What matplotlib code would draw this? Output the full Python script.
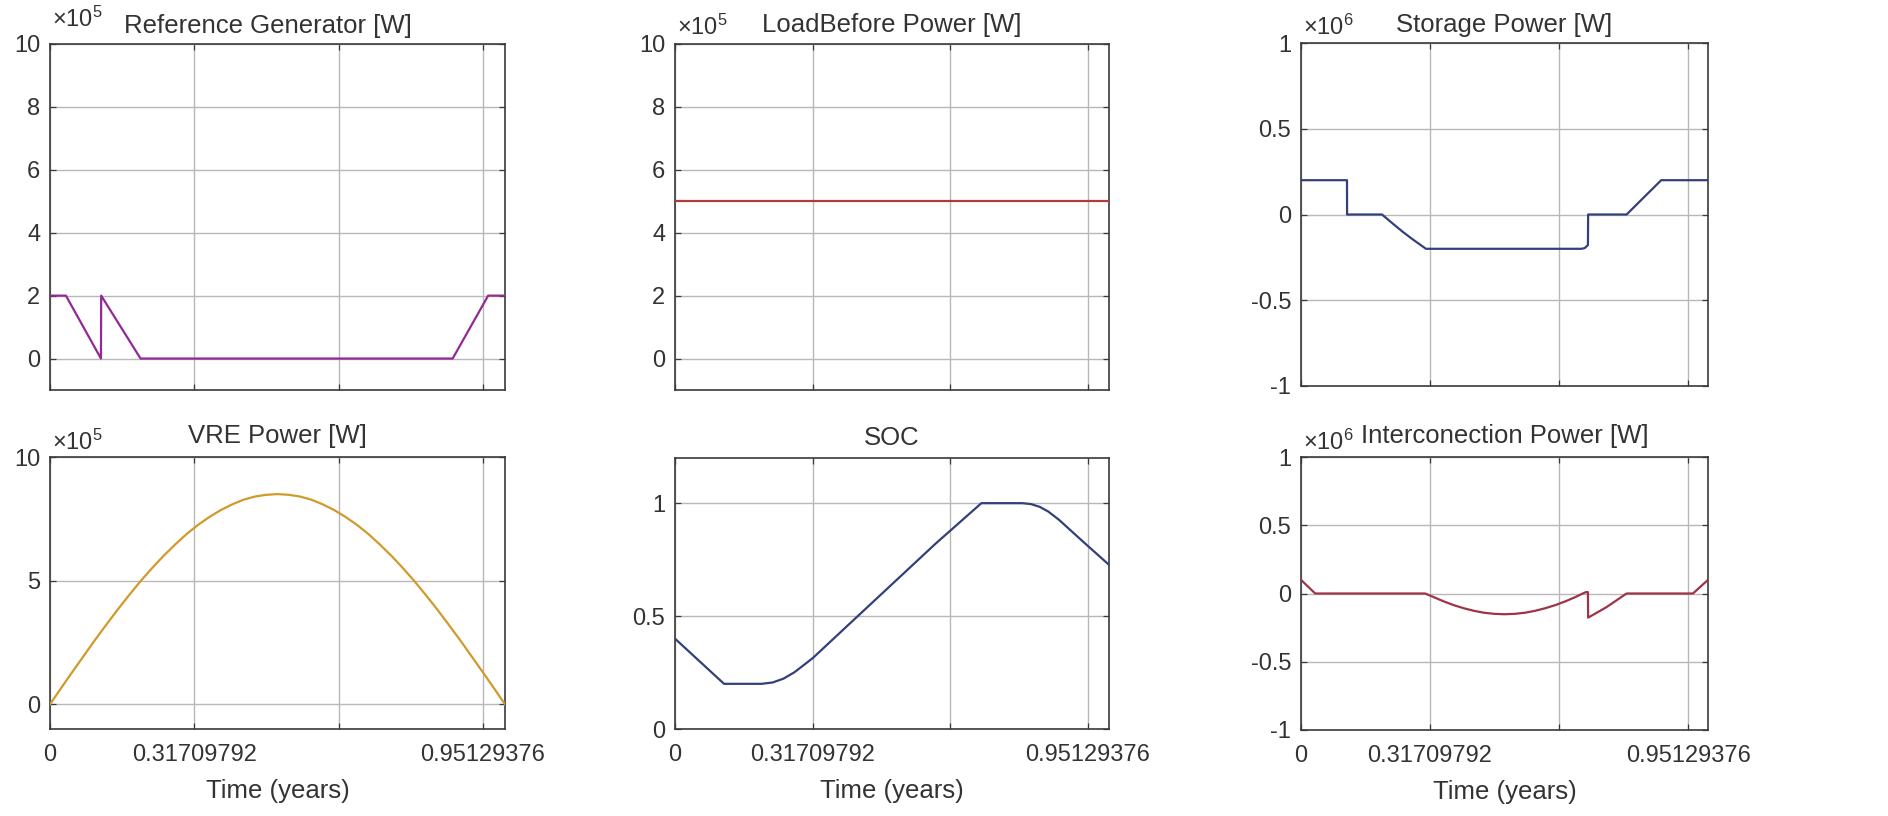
import matplotlib
matplotlib.use("Agg")
import matplotlib.pyplot as plt

plt.rcParams['font.family'] = ['Liberation Sans', 'DejaVu Sans']
plt.rcParams['mathtext.fontset'] = 'custom'
plt.rcParams['mathtext.rm'] = 'Liberation Sans'
plt.rcParams['mathtext.default'] = 'regular'

# ---------------- data (time in years) ----------------
ref_t = [0.0, 0.035, 0.112, 0.1125, 0.199, 0.885, 0.963, 1.0]
ref_p = [2.0e5, 2.0e5, 0.0, 2.0e5, 0.0, 0.0, 2.0e5, 2.0e5]

load_t = [0.0, 1.0]
load_p = [5.0e5, 5.0e5]

stor_t = [0.0, 0.113, 0.1132, 0.199, 0.225, 0.25, 0.275, 0.30, 0.307,
          0.689, 0.697, 0.705, 0.7055, 0.80, 0.885, 1.0]
stor_p = [0.2e6, 0.2e6, 0.0, 0.0, -0.052e6, -0.101e6, -0.146e6, -0.188e6, -0.2e6,
          -0.2e6, -0.196e6, -0.178e6, 0.0, 0.0, 0.2e6, 0.2e6]

vre_t = [0.0, 0.025, 0.05, 0.075, 0.1, 0.125, 0.15, 0.175, 0.2, 0.225, 0.25,
         0.275, 0.3, 0.325, 0.35, 0.375, 0.4, 0.425, 0.45, 0.475, 0.5,
         0.525, 0.55, 0.575, 0.6, 0.625, 0.65, 0.675, 0.7, 0.725, 0.75,
         0.775, 0.8, 0.825, 0.85, 0.875, 0.9, 0.925, 0.95, 0.975, 1.0]
vre_p = [0.0, 0.67e5, 1.33e5, 1.98e5, 2.63e5, 3.25e5, 3.86e5, 4.44e5, 5.0e5, 5.52e5, 6.01e5,
         6.46e5, 6.88e5, 7.25e5, 7.57e5, 7.85e5, 8.08e5, 8.27e5, 8.40e5, 8.47e5, 8.5e5,
         8.47e5, 8.40e5, 8.27e5, 8.08e5, 7.85e5, 7.57e5, 7.25e5, 6.88e5, 6.46e5, 6.01e5,
         5.52e5, 5.0e5, 4.44e5, 3.86e5, 3.25e5, 2.63e5, 1.98e5, 1.33e5, 0.67e5, 0.0]

soc_t = [0.0, 0.113, 0.199, 0.225, 0.25, 0.275, 0.30, 0.318, 0.40, 0.50, 0.60,
         0.706, 0.80, 0.82, 0.84, 0.86, 0.885, 0.94, 1.0]
soc_v = [0.40, 0.20, 0.20, 0.206, 0.223, 0.251, 0.288, 0.315, 0.462, 0.641, 0.82,
         1.0, 1.0, 0.996, 0.984, 0.963, 0.926, 0.83, 0.727]

ic_t = [0.0, 0.035, 0.305, 0.325, 0.35, 0.375, 0.40, 0.425, 0.45, 0.475, 0.50,
        0.525, 0.55, 0.575, 0.60, 0.625, 0.65, 0.675, 0.69, 0.700, 0.705, 0.7055,
        0.75, 0.80, 0.963, 1.0]
ic_p = [0.1e6, 0.0, 0.0, -0.025e6, -0.057e6, -0.085e6, -0.108e6, -0.127e6, -0.141e6, -0.149e6, -0.152e6,
        -0.149e6, -0.141e6, -0.127e6, -0.108e6, -0.085e6, -0.057e6, -0.025e6, -0.003e6, 0.01e6, 0.01e6, -0.177e6,
        -0.101e6, 0.0, 0.0, 0.1e6]

x_ticks = [0.0, 0.31709792, 0.63419584, 0.95129376]
x_ticklabels = ['0', '0.31709792', '', '0.95129376']

titles = ['Reference Generator [W]', 'LoadBefore Power [W]', 'Storage Power [W]',
          'VRE Power [W]', 'SOC', 'Interconection Power [W]']

# ---------------- figure ----------------
W, H = 1888, 816
fig = plt.figure(figsize=(W / 100, H / 100), dpi=100)

def px_axes(l, r, t, b):
    return fig.add_axes([l / W, (H - b) / H, (r - l) / W, (b - t) / H])

TXT = '#333333'
GRID = '#b8b8b8'
SPINE = '#3a3a3a'

specs = [
    ((50, 505, 44, 390), ref_t, ref_p, 1e5, '#932a93', (-1, 10), [0, 2, 4, 6, 8, 10],
     ['0', '2', '4', '6', '8', '10'], 5, 17, 0.479, 11),
    ((675, 1109, 44, 390), load_t, load_p, 1e5, '#b23a3a', (-1, 10), [0, 2, 4, 6, 8, 10],
     ['0', '2', '4', '6', '8', '10'], 5, 9, 0.5, 12),
    ((1301, 1708, 43, 386), stor_t, stor_p, 1e6, '#33407a', (-1, 1), [-1, -0.5, 0, 0.5, 1],
     ['-1', '-0.5', '0', '0.5', '1'], 6, 8, 0.5, 11),
    ((50, 505, 457, 729), vre_t, vre_p, 1e5, '#d09a2c', (-1, 10), [0, 5, 10],
     ['0', '5', '10'], 5, 7, 0.5, 14),
    ((675, 1109, 458, 729), soc_t, soc_v, 1.0, '#33407a', (0, 1.2), [0, 0.5, 1],
     ['0', '0.5', '1'], None, 0, 0.5, 13),
    ((1301, 1708, 457, 730), ic_t, ic_p, 1e6, '#9e3448', (-1, 1), [-1, -0.5, 0, 0.5, 1],
     ['-1', '-0.5', '0', '0.5', '1'], 6, 7, 0.5, 14),
]

for i, (box, xs, ys, scale, col, ylim, yt, ytl, expo, edy, tx, tpad) in enumerate(specs):
    ax = px_axes(*box)
    ax.plot(xs, [v / scale for v in ys], color=col, lw=1.6, zorder=3)
    ax.set_xlim(0, 1.0)
    ax.set_ylim(*ylim)
    ax.set_xticks(x_ticks)
    if i >= 3:
        ax.set_xticklabels(x_ticklabels)
        ax.set_xlabel('Time (years)', fontsize=18.5, color=TXT, labelpad=9)
    else:
        ax.set_xticklabels([])
    ax.set_yticks(yt)
    ax.set_yticklabels(ytl)
    ax.grid(True, color=GRID, lw=1.0)
    ax.set_axisbelow(True)
    ax.tick_params(direction='in', length=4, width=0.9, top=True, right=True,
                   labelsize=17, colors=SPINE, labelcolor=TXT, pad=7)
    ax.tick_params(axis='x', pad=11)
    for s in ax.spines.values():
        s.set_color(SPINE)
        s.set_linewidth(1.2)
    ax.set_title(titles[i], fontsize=18.5, color=TXT, x=tx, pad=tpad * 0.72)
    if expo is not None:
        ax.annotate(r'$\times10^{%d}$' % expo, xy=(0, 1), xycoords='axes fraction',
                    xytext=(2 * 0.72, edy * 0.72), textcoords='offset points',
                    ha='left', va='baseline', fontsize=17, color=TXT)

fig.savefig('out.png', dpi=100, facecolor='white')
